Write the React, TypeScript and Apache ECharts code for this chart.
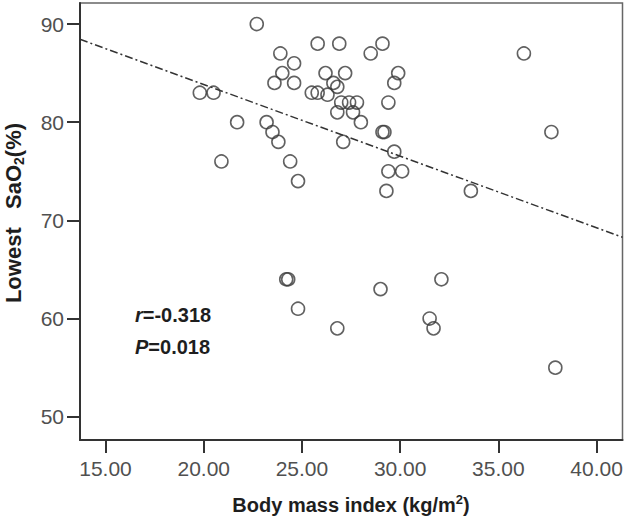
import React, { useEffect, useRef } from "react";
import * as echarts from "echarts";

// Body mass index (kg/m2)
const bmi = [
  22.7, 25.8, 26.9, 29.1, 28.5, 36.3, 23.9, 24.6, 24.0, 26.2,
  27.2, 29.9, 23.6, 24.6, 26.6, 26.8, 29.7, 19.8, 20.5, 25.5,
  25.8, 26.3, 29.4, 27.0, 27.4, 27.8, 26.8, 27.6, 21.7, 23.2,
  28.0, 23.5, 29.1, 29.2, 37.7, 23.8, 27.1, 29.7, 20.9, 24.4,
  29.4, 30.1, 24.8, 29.3, 33.6, 24.2, 24.3, 32.1, 29.0, 24.8,
  31.5, 26.8, 31.7, 37.9,
];
// Lowest SaO2 (%)
const sao2 = [
  90, 88, 88, 88, 87, 87, 87, 86, 85, 85,
  85, 85, 84, 84, 84, 83.6, 84, 83, 83, 83,
  83, 82.8, 82, 82, 82, 82, 81, 81, 80, 80,
  80, 79, 79, 79, 79, 78, 78, 77, 76, 76,
  75, 75, 74, 73, 73, 64, 64, 64, 63, 61,
  60, 59, 59, 55,
];
// regression line end points
const fitBmi = [13.7, 41.32];
const fitSao2 = [88.44, 68.28];

const xTicks = [15, 20, 25, 30, 35, 40];
const yTicks = [50, 60, 70, 80, 90];
const xRange = [13.7, 41.32];
const yRange = [47.63, 92.14];

const statR = "-0.318";
const statP = "0.018";

const FONT = "'Liberation Sans', Arial, sans-serif";

export default function App() {
  const ref = useRef<HTMLDivElement>(null);
  useEffect(() => {
    const chart = echarts.init(ref.current!, null, { renderer: "svg" });
    const points = bmi.map((b, i) => [b, sao2[i]]);
    const fit = fitBmi.map((b, i) => [b, fitSao2[i]]);
    const bold = { fontWeight: "bold", fontFamily: FONT, fill: "#1e1e1e", color: "#1e1e1e" };
    chart.setOption({
      animation: false,
      backgroundColor: "#fff",
      grid: {
        left: 80,
        top: 3,
        right: 3.5,
        bottom: 83,
        show: true,
        borderColor: "#666",
        borderWidth: 1.5,
        backgroundColor: "#fff",
      },
      xAxis: {
        type: "value",
        min: xRange[0],
        max: xRange[1],
        axisLine: { show: true, onZero: false, lineStyle: { color: "#333", width: 2 } },
        axisTick: { show: true, customValues: xTicks, length: 13, lineStyle: { color: "#333", width: 2 } },
        axisLabel: {
          customValues: xTicks,
          formatter: (v: number) => v.toFixed(2),
          fontSize: 21,
          fontFamily: FONT,
          color: "#505050",
          margin: 18,
        },
        splitLine: { show: false },
      },
      yAxis: {
        type: "value",
        min: yRange[0],
        max: yRange[1],
        axisLine: { show: true, onZero: false, lineStyle: { color: "#333", width: 2 } },
        axisTick: { show: true, customValues: yTicks, length: 13, lineStyle: { color: "#333", width: 2 } },
        axisLabel: {
          customValues: yTicks,
          formatter: (v: number) => String(v),
          fontSize: 21,
          fontFamily: FONT,
          color: "#505050",
          margin: 16,
        },
        splitLine: { show: false },
      },
      series: [
        {
          type: "line",
          data: fit,
          symbol: "none",
          lineStyle: { color: "#333", width: 1.5, type: [8, 3, 2, 3] },
          z: 1,
        },
        {
          type: "scatter",
          data: points,
          symbol: "circle",
          symbolSize: 13,
          itemStyle: { color: "rgba(255,255,255,0)", borderColor: "#3a3a3a", borderWidth: 1.6 },
          z: 2,
        },
      ],
      graphic: [
        {
          type: "text",
          x: 135,
          y: 315,
          style: {
            text: `{i|r}{b|=${statR}}`,
            textVerticalAlign: "middle",
            verticalAlign: "middle",
            rich: {
              i: { ...bold, fontSize: 20, fontStyle: "italic" },
              b: { ...bold, fontSize: 20 },
            },
          },
        },
        {
          type: "text",
          x: 135,
          y: 347,
          style: {
            text: `{i|P}{b|=${statP}}`,
            textVerticalAlign: "middle",
            verticalAlign: "middle",
            rich: {
              i: { ...bold, fontSize: 20, fontStyle: "italic" },
              b: { ...bold, fontSize: 20 },
            },
          },
        },
        {
          type: "text",
          x: 351,
          y: 505,
          style: {
            text: "{b|Body mass index (kg/m}{s|2}{b|)}",
            textAlign: "center",
            align: "center",
            textVerticalAlign: "middle",
            verticalAlign: "middle",
            rich: {
              b: { ...bold, fontSize: 20, lineHeight: 24 },
              s: { ...bold, fontSize: 13, verticalAlign: "top", lineHeight: 24 },
            },
          },
        },
        {
          type: "text",
          x: 13,
          y: 213,
          rotation: Math.PI / 2,
          style: {
            text: "{b|Lowest   SaO}{s|2}{b|(%)}",
            textAlign: "center",
            align: "center",
            textVerticalAlign: "middle",
            verticalAlign: "middle",
            rich: {
              b: { ...bold, fontSize: 22, lineHeight: 26 },
              s: { ...bold, fontSize: 14, verticalAlign: "bottom", lineHeight: 26 },
            },
          },
        },
      ],
    });
    return () => chart.dispose();
  }, []);
  return (
    <div
      ref={ref}
      style={{ position: "fixed", left: 0, top: 0, width: 626, height: 523, background: "#fff" }}
    />
  );
}
